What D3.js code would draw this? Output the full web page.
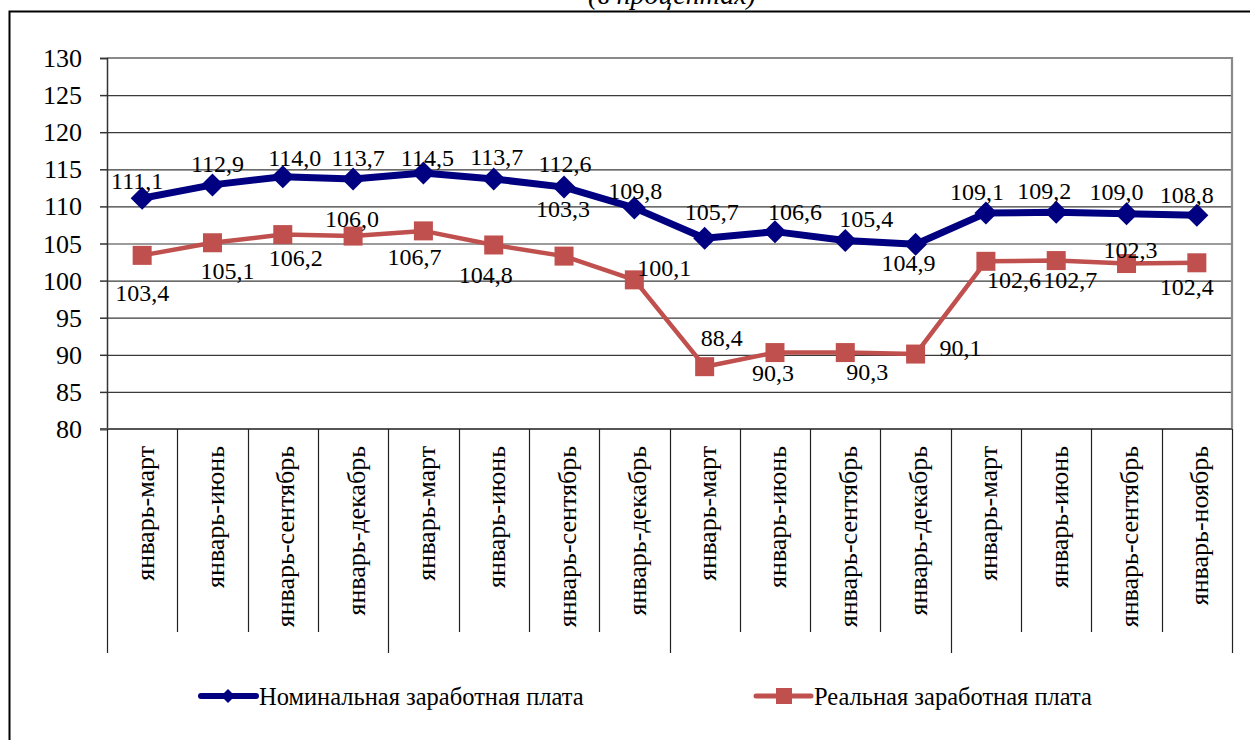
<!DOCTYPE html>
<html><head><meta charset="utf-8">
<script src="https://cdn.jsdelivr.net/npm/d3@7"></script>
<style>body{margin:0;background:#fff}svg{display:block}svg text{font-family:"Liberation Serif","Times New Roman",Times,"DejaVu Serif","Noto Serif",serif;fill:#000}</style>
</head><body><svg id="c" width="1250" height="740"></svg>
<script>
const categories = ["январь-март","январь-июнь","январь-сентябрь","январь-декабрь",
  "январь-март","январь-июнь","январь-сентябрь","январь-декабрь",
  "январь-март","январь-июнь","январь-сентябрь","январь-декабрь",
  "январь-март","январь-июнь","январь-сентябрь","январь-ноябрь"];
const nominal = [111.1,112.9,114.0,113.7,114.5,113.7,112.6,109.8,105.7,106.6,105.4,104.9,109.1,109.2,109.0,108.8];
const real = [103.4,105.1,106.2,106.0,106.7,104.8,103.3,100.1,88.4,90.3,90.3,90.1,102.6,102.7,102.3,102.4];
const yTicks = [80,85,90,95,100,105,110,115,120,125,130];
const seriesNames = ["Номинальная заработная плата","Реальная заработная плата"];
const titleText = "(в процентах)";

// label layout offsets (text centre relative to point)
const nomOff = [[-5,-17],[5,-21],[12,-19],[5,-21],[4,-15],[3,-22],[1,-23],[1,-17],[7,-26],[20,-20],[21,-22],[-7,19],[-9,-21],[-12,-21],[-10,-22],[-10,-20]];
const realOff = [[0,38],[15,28],[13,23],[-1,-17],[-9,26],[-8,30],[-1,-47],[30,-12],[17,-29],[-2,20],[22,19],[45,-6],[28,19],[14,19],[4,-14],[-10,24]];

const FONT = '"Liberation Serif","Times New Roman",Times,"DejaVu Serif",serif';
const svg = d3.select("#c");
svg.append("rect").attr("width",1250).attr("height",740).attr("fill","#fff");
svg.append("rect").attr("x",9.5).attr("y",11.5).attr("width",1300).attr("height",800)
  .attr("fill","none").attr("stroke","#000").attr("stroke-width",2);
svg.append("text").attr("x",672).attr("y",4).attr("text-anchor","middle").attr("font-family",FONT)
  .attr("font-size",28).attr("font-style","italic").text(titleText);

const L=107,R=1232,T=58,B=429;
const x = d3.scaleBand().domain(d3.range(categories.length)).range([L,R]);
const y = d3.scaleLinear().domain([80,130]).range([B,T]);
const cx = i => x(i)+x.bandwidth()/2;

svg.append("g").selectAll("line").data(yTicks.filter(t=>t>80&&t<130)).join("line")
  .attr("x1",L).attr("x2",R).attr("y1",d=>y(d)+0.5).attr("y2",d=>y(d)+0.5)
  .attr("stroke","#3a3a3a").attr("stroke-width",1.2);
svg.append("path").attr("d",`M${L},${T} H${R} V${B}`).attr("fill","none")
  .attr("stroke","#8a8a8a").attr("stroke-width",2.2);

const yAxis = d3.axisLeft(y).tickValues(yTicks).tickSize(7).tickFormat(d3.format("d"));
const ya = svg.append("g").attr("transform",`translate(${L},0)`).call(yAxis).attr("font-family",FONT);
ya.select(".domain").attr("stroke","#333").attr("stroke-width",1.5);
ya.selectAll(".tick line").attr("stroke","#333").attr("stroke-width",1.5);
ya.selectAll(".tick text").attr("font-size",26).attr("fill","#000").attr("x",-25).attr("dy","0.33em");

svg.append("line").attr("x1",L-7).attr("x2",R).attr("y1",B).attr("y2",B).attr("stroke","#555").attr("stroke-width",2);

svg.append("g").selectAll("line").data(d3.range(categories.length+1)).join("line")
  .attr("x1",i=>Math.round(L+i*x.bandwidth())+0.5).attr("x2",i=>Math.round(L+i*x.bandwidth())+0.5)
  .attr("y1",B).attr("y2",i=>i%4===0?653:632)
  .attr("stroke","#222").attr("stroke-width",1.2);

svg.append("g").attr("font-family",FONT).selectAll("text").data(categories).join("text")
  .attr("transform",(d,i)=>`translate(${cx(i)+3},446) rotate(-90)`)
  .attr("text-anchor","end").attr("dominant-baseline","central")
  .attr("font-size",26).text(d=>d);

const nomColor="#000080", realColor="#C0504D";
const line = d3.line().x((d,i)=>cx(i)).y(d=>y(d));
svg.append("path").datum(real).attr("d",line).attr("fill","none").attr("stroke",realColor).attr("stroke-width",4.5).attr("stroke-linejoin","round");
svg.append("path").datum(nominal).attr("d",line).attr("fill","none").attr("stroke",nomColor).attr("stroke-width",7).attr("stroke-linejoin","round");

const dia = h=>`M0,${-h}L${h},0L0,${h}L${-h},0Z`;
svg.append("g").selectAll("path").data(nominal).join("path")
  .attr("transform",(d,i)=>`translate(${cx(i)},${y(d)})`).attr("d",dia(11.5)).attr("fill",nomColor);
svg.append("g").selectAll("rect").data(real).join("rect")
  .attr("x",(d,i)=>cx(i)-9.5).attr("y",d=>y(d)-9.5).attr("width",19).attr("height",19).attr("fill",realColor);

const fmt = v=>v.toFixed(1).replace(".",",");
svg.append("g").attr("font-family",FONT).selectAll("text").data(nominal).join("text")
  .attr("x",(d,i)=>cx(i)+nomOff[i][0]).attr("y",(d,i)=>y(d)+nomOff[i][1])
  .attr("text-anchor","middle").attr("dominant-baseline","central").attr("font-size",24).text(fmt);
svg.append("g").attr("font-family",FONT).selectAll("text").data(real).join("text")
  .attr("x",(d,i)=>cx(i)+realOff[i][0]).attr("y",(d,i)=>y(d)+realOff[i][1])
  .attr("text-anchor","middle").attr("dominant-baseline","central").attr("font-size",24).text(fmt);

const lg = svg.append("g").attr("font-family",FONT);
const ly = 696;
lg.append("line").attr("x1",201).attr("x2",256).attr("y1",ly).attr("y2",ly).attr("stroke",nomColor).attr("stroke-width",6).attr("stroke-linecap","round");
lg.append("path").attr("transform",`translate(228,${ly})`).attr("d",dia(7)).attr("fill",nomColor);
lg.append("text").attr("x",259).attr("y",ly).attr("dominant-baseline","central").attr("font-size",24.5).text(seriesNames[0]);
lg.append("line").attr("x1",756).attr("x2",811).attr("y1",ly).attr("y2",ly).attr("stroke",realColor).attr("stroke-width",5).attr("stroke-linecap","round");
lg.append("rect").attr("x",776).attr("y",ly-8).attr("width",16).attr("height",16).attr("fill",realColor);
lg.append("text").attr("x",814).attr("y",ly).attr("dominant-baseline","central").attr("font-size",24.5).text(seriesNames[1]);
</script></body></html>
